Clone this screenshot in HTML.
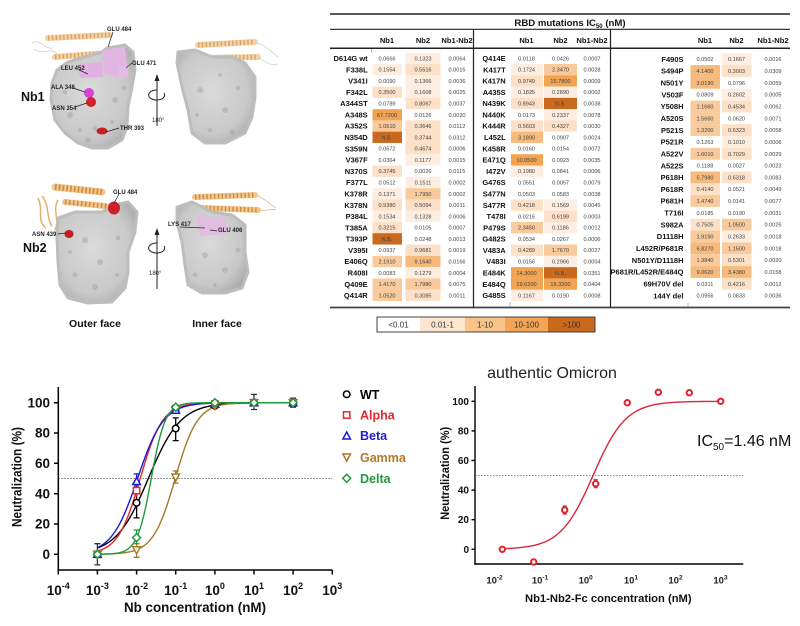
<!DOCTYPE html>
<html><head><meta charset="utf-8">
<style>
html,body{margin:0;padding:0;background:#fff;}
svg{display:block;}
text{font-family:"Liberation Sans",Arial,sans-serif;}
.l{font-size:7.5px;font-weight:bold;text-anchor:end;fill:#111;}
.v{font-size:5.6px;text-anchor:middle;fill:#444;}
.h{font-size:7.6px;font-weight:bold;text-anchor:middle;fill:#111;}
.F{fill:#fdeee1;}.M{fill:#fce0c7;}.A{fill:#f9cb9c;}.B{fill:#f7ba7d;}.C{fill:#f3a453;}.N{fill:#c8691f;}
.pl{font-size:6px;font-weight:bold;fill:#222;}
</style></head><body>
<svg width="800" height="626" viewBox="0 0 800 626" xmlns="http://www.w3.org/2000/svg">
<defs>
<radialGradient id="gs" cx="0.45" cy="0.45" r="0.65">
<stop offset="0" stop-color="#dadada"/><stop offset="0.7" stop-color="#c9c9c9"/><stop offset="1" stop-color="#a9a9a9"/>
</radialGradient>
</defs>
<rect width="800" height="626" fill="#fff"/>

<!-- ================= PROTEIN PANEL ================= -->
<g stroke-linejoin="round">
<!-- top-left -->
<path d="M32,43 C40,38 45,50 53,48 M34,49 C44,56 50,46 58,55" fill="none" stroke="#cfcfcf" stroke-width="0.8"/>
<path d="M48,38 L110,35" stroke="#f3d3a6" stroke-width="6" stroke-linecap="round"/>
<path d="M48,38 L110,35" stroke="#dca265" stroke-width="5" stroke-dasharray="1.4 2.4"/>
<path d="M55,57 L108,53" stroke="#f3d3a6" stroke-width="6" stroke-linecap="round"/>
<path d="M55,57 L108,53" stroke="#dca265" stroke-width="5" stroke-dasharray="1.4 2.4"/>
<path d="M107,48 L125,45 L133,52 L135,70 L132,87 L128,107 L127,127 L122,140 L108,148 L92,148 L78,143 L65,133 L55,120 L51,100 L52,83 L57,70 L68,62 L85,57 L102,52 Z" fill="url(#gs)" stroke="#bdbdbd" stroke-width="3"/>
<g fill="#a5a5a5" opacity="0.5">
<circle cx="70" cy="115" r="3"/><circle cx="95" cy="128" r="2.5"/><circle cx="115" cy="100" r="3"/><circle cx="65" cy="92" r="2.5"/><circle cx="88" cy="140" r="3"/><circle cx="112" cy="122" r="2"/><circle cx="124" cy="88" r="2.5"/><circle cx="80" cy="130" r="2"/>
</g>
<path d="M102,50 L125,47 L127,66 L120,78 L104,74 Z" fill="#e2b6e2"/>
<path d="M78,64 L102,62 L103,77 L80,78 Z" fill="#e2b0e2"/>
<path d="M118,67 L129,66 L128,77 L119,77 Z" fill="#e6bce6"/>
<circle cx="89" cy="93" r="5" fill="#d843d8"/>
<circle cx="91" cy="102" r="5" fill="#d3202a"/>
<ellipse cx="102" cy="131" rx="5.5" ry="3.5" fill="#c81e28"/>
<!-- top-right -->
<path d="M198,45 L255,42" stroke="#f3d3a6" stroke-width="6" stroke-linecap="round"/>
<path d="M198,45 L255,42" stroke="#dca265" stroke-width="5" stroke-dasharray="1.4 2.4"/>
<path d="M205,58 L258,57" stroke="#f3d3a6" stroke-width="6" stroke-linecap="round"/>
<path d="M205,58 L258,57" stroke="#dca265" stroke-width="5" stroke-dasharray="1.4 2.4"/>
<path d="M255,42 C265,45 272,52 278,57 M258,57 C266,62 270,66 278,64" fill="none" stroke="#cfcfcf" stroke-width="0.8"/>
<path d="M178,52 L195,50 L212,57 L232,57 L245,63 L255,77 L255,97 L252,117 L245,133 L225,143 L205,143 L192,133 L188,110 L182,87 L177,63 Z" fill="url(#gs)" stroke="#bdbdbd" stroke-width="3"/>
<g fill="#a5a5a5" opacity="0.5">
<circle cx="200" cy="90" r="3"/><circle cx="225" cy="110" r="3"/><circle cx="210" cy="130" r="2.5"/><circle cx="238" cy="88" r="2.5"/><circle cx="197" cy="115" r="2"/><circle cx="232" cy="132" r="2.5"/><circle cx="220" cy="75" r="2"/>
</g>
<!-- bottom-left -->
<path d="M38,198 C44,210 36,220 46,228 M42,196 C50,206 46,218 52,226 M58,200 C52,210 60,220 55,230" fill="none" stroke="#e3b06a" stroke-width="1.5"/>
<path d="M55,187 L102,192" stroke="#f0c890" stroke-width="7" stroke-linecap="round"/>
<path d="M55,187 L102,192" stroke="#d18a3c" stroke-width="6" stroke-dasharray="1.6 2.2"/>
<path d="M65,202 L125,208" stroke="#f0c890" stroke-width="6" stroke-linecap="round"/>
<path d="M65,202 L125,208" stroke="#d18a3c" stroke-width="5" stroke-dasharray="1.6 2.4"/>
<path d="M58,218 L75,212 L102,212 L115,205 L128,202 L137,212 L135,232 L128,252 L128,272 L125,288 L112,302 L88,303 L68,298 L60,285 L58,262 L57,238 Z" fill="url(#gs)" stroke="#bdbdbd" stroke-width="3"/>
<g fill="#a5a5a5" opacity="0.5">
<circle cx="85" cy="240" r="3"/><circle cx="100" cy="262" r="3"/><circle cx="75" cy="275" r="2.5"/><circle cx="118" cy="238" r="2.5"/><circle cx="95" cy="287" r="3"/><circle cx="117" cy="275" r="2"/><circle cx="70" cy="252" r="2"/>
</g>
<ellipse cx="114" cy="208" rx="6" ry="6.5" fill="#cc1f2a"/>
<ellipse cx="69" cy="234" rx="4.5" ry="4" fill="#c21d28"/>
<!-- bottom-right -->
<path d="M195,197 L255,195" stroke="#f0c890" stroke-width="6" stroke-linecap="round"/>
<path d="M195,197 L255,195" stroke="#d18a3c" stroke-width="5" stroke-dasharray="1.4 2.4"/>
<path d="M202,208 L258,210" stroke="#f0c890" stroke-width="6" stroke-linecap="round"/>
<path d="M202,208 L258,210" stroke="#d18a3c" stroke-width="5" stroke-dasharray="1.4 2.4"/>
<path d="M255,195 C265,198 270,205 276,208 M258,210 C265,212 270,208 276,210" fill="none" stroke="#e8c590" stroke-width="1"/>
<path d="M177,207 L192,202 L212,212 L232,215 L245,225 L245,252 L248,272 L242,288 L225,293 L202,293 L188,285 L185,265 L182,242 L177,222 Z" fill="url(#gs)" stroke="#bdbdbd" stroke-width="3"/>
<g fill="#a5a5a5" opacity="0.5">
<circle cx="205" cy="255" r="3"/><circle cx="225" cy="270" r="3"/><circle cx="238" cy="250" r="2.5"/><circle cx="195" cy="275" r="2.5"/><circle cx="215" cy="285" r="2"/>
</g>
<path d="M196,216 L225,218 L228,234 L200,236 Z" fill="#e2bde2"/>
</g>
<!-- leader lines -->
<g stroke="#222" stroke-width="0.7" fill="none">
<line x1="113" y1="32" x2="108" y2="47"/>
<line x1="79" y1="70" x2="88" y2="74"/>
<line x1="132" y1="63" x2="126" y2="68"/>
<line x1="73" y1="88" x2="85" y2="92"/>
<line x1="75" y1="107" x2="87" y2="103"/>
<line x1="119" y1="128" x2="106" y2="132"/>
<line x1="119" y1="194" x2="114" y2="203"/>
<line x1="58" y1="234" x2="66" y2="233"/>
<line x1="180" y1="227" x2="205" y2="228"/>
<line x1="217" y1="231" x2="210" y2="230"/>
</g>
<g class="pl">
<text x="107" y="31">GLU 484</text>
<text x="61" y="70">LEU 452</text>
<text x="132" y="65">GLU 471</text>
<text x="51" y="89">ALA 348</text>
<text x="52" y="110">ASN 354</text>
<text x="120" y="130">THR 393</text>
<text x="113" y="194">GLU 484</text>
<text x="32" y="236">ASN 439</text>
<text x="168" y="226">LYS 417</text>
<text x="218" y="232">GLU 406</text>
</g>
<!-- rotation arrows -->
<g stroke="#222" stroke-width="1" fill="none">
<line x1="157" y1="126" x2="157" y2="79"/>
<path d="M164,93 A8,5 0 1,1 157,90"/>
<line x1="157" y1="289" x2="157" y2="233"/>
<path d="M164,246 A8,5 0 1,1 157,243"/>
</g>
<path d="M157,74 L154.5,81 L159.5,81 Z M157,228 L154.5,235 L159.5,235 Z" fill="#222"/>
<text x="152" y="122" font-size="6" fill="#222">180<tspan font-size="4" dy="-2.5">o</tspan></text>
<text x="149" y="275" font-size="6" fill="#222">180<tspan font-size="4" dy="-2.5">o</tspan></text>
<text x="21" y="101" font-size="12.5" font-weight="bold" fill="#111">Nb1</text>
<text x="23" y="252" font-size="12.5" font-weight="bold" fill="#111">Nb2</text>
<text x="95" y="327" font-size="10.5" font-weight="bold" fill="#111" text-anchor="middle">Outer face</text>
<text x="217" y="327" font-size="10.5" font-weight="bold" fill="#111" text-anchor="middle">Inner face</text>

<!-- ================= TABLE ================= -->
<text x="570" y="26" font-size="9.6" font-weight="bold" text-anchor="middle" fill="#111">RBD mutations IC<tspan font-size="6" dy="2">50</tspan><tspan dy="-2"> (nM)</tspan></text>
<g class="h">
<text x="387" y="43">Nb1</text><text x="423" y="43">Nb2</text><text x="457" y="43">Nb1-Nb2</text>
<text x="526.5" y="43">Nb1</text><text x="560.5" y="43">Nb2</text><text x="592" y="43">Nb1-Nb2</text>
<text x="705" y="43">Nb1</text><text x="736.5" y="43">Nb2</text><text x="773" y="43">Nb1-Nb2</text>
</g>

<!-- left section -->
<g transform="translate(0,58.3)"><rect class="F" x="405.5" y="-5.65" width="35" height="11.3"/><text class="l" x="367.7" y="2.7">D614G wt</text><text class="v" x="387" y="2">0.0666</text><text class="v" x="423" y="2">0.1323</text><text class="v" x="457" y="2">0.0064</text></g>
<g transform="translate(0,69.6)"><rect class="F" x="372.5" y="-5.65" width="29.5" height="11.3"/><rect class="M" x="405.5" y="-5.65" width="35" height="11.3"/><text class="l" x="367.7" y="2.7">F338L</text><text class="v" x="387" y="2">0.1554</text><text class="v" x="423" y="2">0.5516</text><text class="v" x="457" y="2">0.0015</text></g>
<g transform="translate(0,80.9)"><rect class="F" x="405.5" y="-5.65" width="35" height="11.3"/><text class="l" x="367.7" y="2.7">V341I</text><text class="v" x="387" y="2">0.0090</text><text class="v" x="423" y="2">0.1366</text><text class="v" x="457" y="2">0.0036</text></g>
<g transform="translate(0,92.2)"><rect class="M" x="372.5" y="-5.65" width="29.5" height="11.3"/><rect class="F" x="405.5" y="-5.65" width="35" height="11.3"/><text class="l" x="367.7" y="2.7">F342L</text><text class="v" x="387" y="2">0.3500</text><text class="v" x="423" y="2">0.1608</text><text class="v" x="457" y="2">0.0025</text></g>
<g transform="translate(0,103.5)"><rect class="M" x="405.5" y="-5.65" width="35" height="11.3"/><text class="l" x="367.7" y="2.7">A344ST</text><text class="v" x="387" y="2">0.0789</text><text class="v" x="423" y="2">0.8067</text><text class="v" x="457" y="2">0.0037</text></g>
<g transform="translate(0,114.8)"><rect class="C" x="372.5" y="-5.65" width="29.5" height="11.3"/><text class="l" x="367.7" y="2.7">A348S</text><text class="v" x="387" y="2">67.7200</text><text class="v" x="423" y="2">0.0126</text><text class="v" x="457" y="2">0.0020</text></g>
<g transform="translate(0,126.0)"><rect class="A" x="372.5" y="-5.65" width="29.5" height="11.3"/><rect class="M" x="405.5" y="-5.65" width="35" height="11.3"/><text class="l" x="367.7" y="2.7">A352S</text><text class="v" x="387" y="2">1.0510</text><text class="v" x="423" y="2">0.3646</text><text class="v" x="457" y="2">0.0112</text></g>
<g transform="translate(0,137.3)"><rect class="N" x="372.5" y="-5.65" width="29.5" height="11.3"/><rect class="M" x="405.5" y="-5.65" width="35" height="11.3"/><text class="l" x="367.7" y="2.7">N354D</text><text class="v" x="387" y="2">N.B.</text><text class="v" x="423" y="2">0.3744</text><text class="v" x="457" y="2">0.0312</text></g>
<g transform="translate(0,148.6)"><rect class="M" x="405.5" y="-5.65" width="35" height="11.3"/><text class="l" x="367.7" y="2.7">S359N</text><text class="v" x="387" y="2">0.0672</text><text class="v" x="423" y="2">0.4674</text><text class="v" x="457" y="2">0.0006</text></g>
<g transform="translate(0,159.9)"><rect class="F" x="405.5" y="-5.65" width="35" height="11.3"/><text class="l" x="367.7" y="2.7">V367F</text><text class="v" x="387" y="2">0.0364</text><text class="v" x="423" y="2">0.1177</text><text class="v" x="457" y="2">0.0015</text></g>
<g transform="translate(0,171.2)"><rect class="M" x="372.5" y="-5.65" width="29.5" height="11.3"/><text class="l" x="367.7" y="2.7">N370S</text><text class="v" x="387" y="2">0.3745</text><text class="v" x="423" y="2">0.0026</text><text class="v" x="457" y="2">0.0115</text></g>
<g transform="translate(0,182.5)"><rect class="F" x="405.5" y="-5.65" width="35" height="11.3"/><text class="l" x="367.7" y="2.7">F377L</text><text class="v" x="387" y="2">0.0512</text><text class="v" x="423" y="2">0.1511</text><text class="v" x="457" y="2">0.0002</text></g>
<g transform="translate(0,193.8)"><rect class="F" x="372.5" y="-5.65" width="29.5" height="11.3"/><rect class="A" x="405.5" y="-5.65" width="35" height="11.3"/><text class="l" x="367.7" y="2.7">K378R</text><text class="v" x="387" y="2">0.1371</text><text class="v" x="423" y="2">1.7950</text><text class="v" x="457" y="2">0.0002</text></g>
<g transform="translate(0,205.1)"><rect class="M" x="372.5" y="-5.65" width="29.5" height="11.3"/><rect class="M" x="405.5" y="-5.65" width="35" height="11.3"/><text class="l" x="367.7" y="2.7">K378N</text><text class="v" x="387" y="2">0.9380</text><text class="v" x="423" y="2">0.5094</text><text class="v" x="457" y="2">0.0011</text></g>
<g transform="translate(0,216.4)"><rect class="F" x="372.5" y="-5.65" width="29.5" height="11.3"/><rect class="F" x="405.5" y="-5.65" width="35" height="11.3"/><text class="l" x="367.7" y="2.7">P384L</text><text class="v" x="387" y="2">0.1534</text><text class="v" x="423" y="2">0.1328</text><text class="v" x="457" y="2">0.0006</text></g>
<g transform="translate(0,227.7)"><rect class="M" x="372.5" y="-5.65" width="29.5" height="11.3"/><text class="l" x="367.7" y="2.7">T385A</text><text class="v" x="387" y="2">0.3215</text><text class="v" x="423" y="2">0.0105</text><text class="v" x="457" y="2">0.0007</text></g>
<g transform="translate(0,238.9)"><rect class="N" x="372.5" y="-5.65" width="29.5" height="11.3"/><text class="l" x="367.7" y="2.7">T393P</text><text class="v" x="387" y="2">N.B.</text><text class="v" x="423" y="2">0.0248</text><text class="v" x="457" y="2">0.0013</text></g>
<g transform="translate(0,250.2)"><rect class="M" x="405.5" y="-5.65" width="35" height="11.3"/><text class="l" x="367.7" y="2.7">V395I</text><text class="v" x="387" y="2">0.0937</text><text class="v" x="423" y="2">0.9681</text><text class="v" x="457" y="2">0.0019</text></g>
<g transform="translate(0,261.5)"><rect class="A" x="372.5" y="-5.65" width="29.5" height="11.3"/><rect class="B" x="405.5" y="-5.65" width="35" height="11.3"/><text class="l" x="367.7" y="2.7">E406Q</text><text class="v" x="387" y="2">2.1910</text><text class="v" x="423" y="2">9.1640</text><text class="v" x="457" y="2">0.0166</text></g>
<g transform="translate(0,272.8)"><rect class="F" x="405.5" y="-5.65" width="35" height="11.3"/><text class="l" x="367.7" y="2.7">R408I</text><text class="v" x="387" y="2">0.0083</text><text class="v" x="423" y="2">0.1279</text><text class="v" x="457" y="2">0.0004</text></g>
<g transform="translate(0,284.1)"><rect class="A" x="372.5" y="-5.65" width="29.5" height="11.3"/><rect class="A" x="405.5" y="-5.65" width="35" height="11.3"/><text class="l" x="367.7" y="2.7">Q409E</text><text class="v" x="387" y="2">1.4170</text><text class="v" x="423" y="2">1.7980</text><text class="v" x="457" y="2">0.0075</text></g>
<g transform="translate(0,295.4)"><rect class="A" x="372.5" y="-5.65" width="29.5" height="11.3"/><rect class="M" x="405.5" y="-5.65" width="35" height="11.3"/><text class="l" x="367.7" y="2.7">Q414R</text><text class="v" x="387" y="2">1.0520</text><text class="v" x="423" y="2">0.3085</text><text class="v" x="457" y="2">0.0011</text></g>

<!-- middle section -->
<g transform="translate(0,58.3)"><text class="l" x="505.7" y="2.7">Q414E</text><text class="v" x="526.5" y="2">0.0118</text><text class="v" x="560.5" y="2">0.0426</text><text class="v" x="592" y="2">0.0007</text></g>
<g transform="translate(0,69.6)"><rect class="F" x="511" y="-5.65" width="32" height="11.3"/><rect class="A" x="544" y="-5.65" width="33" height="11.3"/><text class="l" x="505.7" y="2.7">K417T</text><text class="v" x="526.5" y="2">0.1724</text><text class="v" x="560.5" y="2">2.3470</text><text class="v" x="592" y="2">0.0028</text></g>
<g transform="translate(0,80.9)"><rect class="M" x="511" y="-5.65" width="32" height="11.3"/><rect class="C" x="544" y="-5.65" width="33" height="11.3"/><text class="l" x="505.7" y="2.7">K417N</text><text class="v" x="526.5" y="2">0.9749</text><text class="v" x="560.5" y="2">15.7800</text><text class="v" x="592" y="2">0.0009</text></g>
<g transform="translate(0,92.2)"><rect class="F" x="511" y="-5.65" width="32" height="11.3"/><rect class="F" x="544" y="-5.65" width="33" height="11.3"/><text class="l" x="505.7" y="2.7">A435S</text><text class="v" x="526.5" y="2">0.1825</text><text class="v" x="560.5" y="2">0.2890</text><text class="v" x="592" y="2">0.0002</text></g>
<g transform="translate(0,103.5)"><rect class="M" x="511" y="-5.65" width="32" height="11.3"/><rect class="N" x="544" y="-5.65" width="33" height="11.3"/><text class="l" x="505.7" y="2.7">N439K</text><text class="v" x="526.5" y="2">0.8943</text><text class="v" x="560.5" y="2">N.B.</text><text class="v" x="592" y="2">0.0038</text></g>
<g transform="translate(0,114.8)"><rect class="F" x="544" y="-5.65" width="33" height="11.3"/><text class="l" x="505.7" y="2.7">N440K</text><text class="v" x="526.5" y="2">0.0173</text><text class="v" x="560.5" y="2">0.2337</text><text class="v" x="592" y="2">0.0078</text></g>
<g transform="translate(0,126.0)"><rect class="M" x="511" y="-5.65" width="32" height="11.3"/><rect class="M" x="544" y="-5.65" width="33" height="11.3"/><text class="l" x="505.7" y="2.7">K444R</text><text class="v" x="526.5" y="2">0.5603</text><text class="v" x="560.5" y="2">0.4327</text><text class="v" x="592" y="2">0.0030</text></g>
<g transform="translate(0,137.3)"><rect class="B" x="511" y="-5.65" width="32" height="11.3"/><text class="l" x="505.7" y="2.7">L452L</text><text class="v" x="526.5" y="2">3.1890</text><text class="v" x="560.5" y="2">0.0907</text><text class="v" x="592" y="2">0.0024</text></g>
<g transform="translate(0,148.6)"><text class="l" x="505.7" y="2.7">K458R</text><text class="v" x="526.5" y="2">0.0160</text><text class="v" x="560.5" y="2">0.0154</text><text class="v" x="592" y="2">0.0072</text></g>
<g transform="translate(0,159.9)"><rect class="C" x="511" y="-5.65" width="32" height="11.3"/><text class="l" x="505.7" y="2.7">E471Q</text><text class="v" x="526.5" y="2">10.0500</text><text class="v" x="560.5" y="2">0.0923</text><text class="v" x="592" y="2">0.0035</text></g>
<g transform="translate(0,171.2)"><rect class="F" x="511" y="-5.65" width="32" height="11.3"/><text class="l" x="505.7" y="2.7">I472V</text><text class="v" x="526.5" y="2">0.1980</text><text class="v" x="560.5" y="2">0.0841</text><text class="v" x="592" y="2">0.0006</text></g>
<g transform="translate(0,182.5)"><text class="l" x="505.7" y="2.7">G476S</text><text class="v" x="526.5" y="2">0.0551</text><text class="v" x="560.5" y="2">0.0057</text><text class="v" x="592" y="2">0.0079</text></g>
<g transform="translate(0,193.8)"><text class="l" x="505.7" y="2.7">S477N</text><text class="v" x="526.5" y="2">0.0503</text><text class="v" x="560.5" y="2">0.0583</text><text class="v" x="592" y="2">0.0038</text></g>
<g transform="translate(0,205.1)"><rect class="M" x="511" y="-5.65" width="32" height="11.3"/><rect class="F" x="544" y="-5.65" width="33" height="11.3"/><text class="l" x="505.7" y="2.7">S477R</text><text class="v" x="526.5" y="2">0.4218</text><text class="v" x="560.5" y="2">0.1569</text><text class="v" x="592" y="2">0.0045</text></g>
<g transform="translate(0,216.4)"><rect class="M" x="544" y="-5.65" width="33" height="11.3"/><text class="l" x="505.7" y="2.7">T478I</text><text class="v" x="526.5" y="2">0.0215</text><text class="v" x="560.5" y="2">0.6199</text><text class="v" x="592" y="2">0.0003</text></g>
<g transform="translate(0,227.7)"><rect class="A" x="511" y="-5.65" width="32" height="11.3"/><rect class="F" x="544" y="-5.65" width="33" height="11.3"/><text class="l" x="505.7" y="2.7">P479S</text><text class="v" x="526.5" y="2">2.3450</text><text class="v" x="560.5" y="2">0.1186</text><text class="v" x="592" y="2">0.0012</text></g>
<g transform="translate(0,238.9)"><text class="l" x="505.7" y="2.7">G482S</text><text class="v" x="526.5" y="2">0.0534</text><text class="v" x="560.5" y="2">0.0267</text><text class="v" x="592" y="2">0.0006</text></g>
<g transform="translate(0,250.2)"><rect class="M" x="511" y="-5.65" width="32" height="11.3"/><rect class="A" x="544" y="-5.65" width="33" height="11.3"/><text class="l" x="505.7" y="2.7">V483A</text><text class="v" x="526.5" y="2">0.4289</text><text class="v" x="560.5" y="2">1.7670</text><text class="v" x="592" y="2">0.0027</text></g>
<g transform="translate(0,261.5)"><rect class="F" x="544" y="-5.65" width="33" height="11.3"/><text class="l" x="505.7" y="2.7">V483I</text><text class="v" x="526.5" y="2">0.0156</text><text class="v" x="560.5" y="2">0.2966</text><text class="v" x="592" y="2">0.0004</text></g>
<g transform="translate(0,272.8)"><rect class="C" x="511" y="-5.65" width="32" height="11.3"/><rect class="N" x="544" y="-5.65" width="33" height="11.3"/><text class="l" x="505.7" y="2.7">E484K</text><text class="v" x="526.5" y="2">14.3000</text><text class="v" x="560.5" y="2">N.B.</text><text class="v" x="592" y="2">0.0351</text></g>
<g transform="translate(0,284.1)"><rect class="C" x="511" y="-5.65" width="32" height="11.3"/><rect class="C" x="544" y="-5.65" width="33" height="11.3"/><text class="l" x="505.7" y="2.7">E484Q</text><text class="v" x="526.5" y="2">19.6200</text><text class="v" x="560.5" y="2">19.3200</text><text class="v" x="592" y="2">0.0404</text></g>
<g transform="translate(0,295.4)"><rect class="F" x="511" y="-5.65" width="32" height="11.3"/><text class="l" x="505.7" y="2.7">G485S</text><text class="v" x="526.5" y="2">0.1167</text><text class="v" x="560.5" y="2">0.0190</text><text class="v" x="592" y="2">0.0008</text></g>

<!-- right section -->
<g transform="translate(0,59.2)"><rect class="F" x="722" y="-5.91" width="29.5" height="11.82"/><text class="l" x="683.5" y="2.7">F490S</text><text class="v" x="705" y="2">0.0502</text><text class="v" x="736.5" y="2">0.1667</text><text class="v" x="773" y="2">0.0016</text></g>
<g transform="translate(0,71.0)"><rect class="B" x="690.5" y="-5.91" width="29.5" height="11.82"/><rect class="M" x="722" y="-5.91" width="29.5" height="11.82"/><text class="l" x="683.5" y="2.7">S494P</text><text class="v" x="705" y="2">4.1400</text><text class="v" x="736.5" y="2">0.3003</text><text class="v" x="773" y="2">0.0309</text></g>
<g transform="translate(0,82.8)"><rect class="B" x="690.5" y="-5.91" width="29.5" height="11.82"/><text class="l" x="683.5" y="2.7">N501Y</text><text class="v" x="705" y="2">3.0190</text><text class="v" x="736.5" y="2">0.0796</text><text class="v" x="773" y="2">0.0059</text></g>
<g transform="translate(0,94.7)"><rect class="F" x="722" y="-5.91" width="29.5" height="11.82"/><text class="l" x="683.5" y="2.7">V503F</text><text class="v" x="705" y="2">0.0809</text><text class="v" x="736.5" y="2">0.2602</text><text class="v" x="773" y="2">0.0005</text></g>
<g transform="translate(0,106.5)"><rect class="A" x="690.5" y="-5.91" width="29.5" height="11.82"/><rect class="M" x="722" y="-5.91" width="29.5" height="11.82"/><text class="l" x="683.5" y="2.7">Y508H</text><text class="v" x="705" y="2">1.1660</text><text class="v" x="736.5" y="2">0.4534</text><text class="v" x="773" y="2">0.0062</text></g>
<g transform="translate(0,118.3)"><rect class="A" x="690.5" y="-5.91" width="29.5" height="11.82"/><text class="l" x="683.5" y="2.7">A520S</text><text class="v" x="705" y="2">1.5660</text><text class="v" x="736.5" y="2">0.0620</text><text class="v" x="773" y="2">0.0071</text></g>
<g transform="translate(0,130.1)"><rect class="A" x="690.5" y="-5.91" width="29.5" height="11.82"/><rect class="M" x="722" y="-5.91" width="29.5" height="11.82"/><text class="l" x="683.5" y="2.7">P521S</text><text class="v" x="705" y="2">1.3200</text><text class="v" x="736.5" y="2">0.6323</text><text class="v" x="773" y="2">0.0058</text></g>
<g transform="translate(0,141.9)"><rect class="F" x="722" y="-5.91" width="29.5" height="11.82"/><text class="l" x="683.5" y="2.7">P521R</text><text class="v" x="705" y="2">0.1263</text><text class="v" x="736.5" y="2">0.1010</text><text class="v" x="773" y="2">0.0006</text></g>
<g transform="translate(0,153.8)"><rect class="A" x="690.5" y="-5.91" width="29.5" height="11.82"/><rect class="M" x="722" y="-5.91" width="29.5" height="11.82"/><text class="l" x="683.5" y="2.7">A522V</text><text class="v" x="705" y="2">1.6010</text><text class="v" x="736.5" y="2">0.7029</text><text class="v" x="773" y="2">0.0029</text></g>
<g transform="translate(0,165.6)"><text class="l" x="683.5" y="2.7">A522S</text><text class="v" x="705" y="2">0.1188</text><text class="v" x="736.5" y="2">0.0027</text><text class="v" x="773" y="2">0.0023</text></g>
<g transform="translate(0,177.4)"><rect class="B" x="690.5" y="-5.91" width="29.5" height="11.82"/><rect class="M" x="722" y="-5.91" width="29.5" height="11.82"/><text class="l" x="683.5" y="2.7">P618H</text><text class="v" x="705" y="2">5.7980</text><text class="v" x="736.5" y="2">0.6318</text><text class="v" x="773" y="2">0.0083</text></g>
<g transform="translate(0,189.2)"><rect class="M" x="690.5" y="-5.91" width="29.5" height="11.82"/><text class="l" x="683.5" y="2.7">P618R</text><text class="v" x="705" y="2">0.4140</text><text class="v" x="736.5" y="2">0.0521</text><text class="v" x="773" y="2">0.0049</text></g>
<g transform="translate(0,201.0)"><rect class="A" x="690.5" y="-5.91" width="29.5" height="11.82"/><text class="l" x="683.5" y="2.7">P681H</text><text class="v" x="705" y="2">1.4740</text><text class="v" x="736.5" y="2">0.0141</text><text class="v" x="773" y="2">0.0077</text></g>
<g transform="translate(0,212.9)"><text class="l" x="683.5" y="2.7">T716I</text><text class="v" x="705" y="2">0.0185</text><text class="v" x="736.5" y="2">0.0190</text><text class="v" x="773" y="2">0.0031</text></g>
<g transform="translate(0,224.7)"><rect class="M" x="690.5" y="-5.91" width="29.5" height="11.82"/><rect class="A" x="722" y="-5.91" width="29.5" height="11.82"/><text class="l" x="683.5" y="2.7">S982A</text><text class="v" x="705" y="2">0.7505</text><text class="v" x="736.5" y="2">1.0500</text><text class="v" x="773" y="2">0.0026</text></g>
<g transform="translate(0,236.5)"><rect class="A" x="690.5" y="-5.91" width="29.5" height="11.82"/><rect class="F" x="722" y="-5.91" width="29.5" height="11.82"/><text class="l" x="683.5" y="2.7">D1118H</text><text class="v" x="705" y="2">1.9190</text><text class="v" x="736.5" y="2">0.2633</text><text class="v" x="773" y="2">0.0018</text></g>
<g transform="translate(0,248.3)"><rect class="B" x="690.5" y="-5.91" width="29.5" height="11.82"/><rect class="A" x="722" y="-5.91" width="29.5" height="11.82"/><text class="l" x="683.5" y="2.7">L452R/P681R</text><text class="v" x="705" y="2">6.8270</text><text class="v" x="736.5" y="2">1.1500</text><text class="v" x="773" y="2">0.0018</text></g>
<g transform="translate(0,260.1)"><rect class="A" x="690.5" y="-5.91" width="29.5" height="11.82"/><rect class="M" x="722" y="-5.91" width="29.5" height="11.82"/><text class="l" x="683.5" y="2.7">N501Y/D1118H</text><text class="v" x="705" y="2">1.3840</text><text class="v" x="736.5" y="2">0.5301</text><text class="v" x="773" y="2">0.0020</text></g>
<g transform="translate(0,272.0)"><rect class="B" x="690.5" y="-5.91" width="29.5" height="11.82"/><rect class="B" x="722" y="-5.91" width="29.5" height="11.82"/><text class="l" x="683.5" y="2.7">P681R/L452R/E484Q</text><text class="v" x="705" y="2">9.0620</text><text class="v" x="736.5" y="2">3.4380</text><text class="v" x="773" y="2">0.0158</text></g>
<g transform="translate(0,283.8)"><rect class="M" x="722" y="-5.91" width="29.5" height="11.82"/><text class="l" x="683.5" y="2.7">69H70V del</text><text class="v" x="705" y="2">0.0311</text><text class="v" x="736.5" y="2">0.4216</text><text class="v" x="773" y="2">0.0012</text></g>
<g transform="translate(0,295.6)"><text class="l" x="683.5" y="2.7">144Y del</text><text class="v" x="705" y="2">0.0956</text><text class="v" x="736.5" y="2">0.0833</text><text class="v" x="773" y="2">0.0036</text></g>

<!-- table lines -->
<g stroke="#222">
<line x1="330" y1="14" x2="790" y2="14" stroke-width="1.5"/>
<line x1="330" y1="29.3" x2="790" y2="29.3" stroke-width="1.2"/>
<line x1="330" y1="48.3" x2="790" y2="48.3" stroke-width="1.5"/>
<line x1="330" y1="307.5" x2="790" y2="307.5" stroke-width="1.8" stroke="#444"/>
<line x1="473.5" y1="29.3" x2="473.5" y2="307.5" stroke-width="1.2"/>
<line x1="610.5" y1="29.3" x2="610.5" y2="307.5" stroke-width="1.2"/>
<line x1="371.7" y1="49" x2="371.7" y2="52.5" stroke-width="0.6" stroke="#888"/>
<line x1="510" y1="302" x2="510" y2="306.7" stroke-width="0.6" stroke="#888"/>
<line x1="688" y1="303" x2="688" y2="306.7" stroke-width="0.6" stroke="#888"/>
</g>

<!-- colour legend -->
<rect x="420" y="317" width="45" height="15" fill="#fde5cf"/>
<rect x="465" y="317" width="40" height="15" fill="#f9c38a"/>
<rect x="505" y="317" width="43" height="15" fill="#f4a457"/>
<rect x="548" y="317" width="47" height="15" fill="#c9691e"/>
<rect x="377" y="317" width="218" height="15" fill="none" stroke="#333" stroke-width="0.9"/>
<g font-size="8" text-anchor="middle" fill="#333">
<text x="398.5" y="327.5">&lt;0.01</text>
<text x="442.5" y="327.5">0.01-1</text>
<text x="485" y="327.5">1-10</text>
<text x="526.5" y="327.5">10-100</text>
<text x="571.5" y="327.5">&gt;100</text>
</g>

<!-- ================= LEFT CHART ================= -->
<g stroke="#000" stroke-width="1.5" fill="none">
<line x1="58.3" y1="387" x2="58.3" y2="570.7"/>
<line x1="57.6" y1="570" x2="332.3" y2="570"/>
<line x1="54" y1="554.3" x2="58.3" y2="554.3"/>
<line x1="54" y1="524.0" x2="58.3" y2="524.0"/>
<line x1="54" y1="493.7" x2="58.3" y2="493.7"/>
<line x1="54" y1="463.3" x2="58.3" y2="463.3"/>
<line x1="54" y1="433.0" x2="58.3" y2="433.0"/>
<line x1="54" y1="402.7" x2="58.3" y2="402.7"/>
<line x1="58.3" y1="570" x2="58.3" y2="574.5"/>
<line x1="97.4" y1="570" x2="97.4" y2="574.5"/>
<line x1="136.6" y1="570" x2="136.6" y2="574.5"/>
<line x1="175.7" y1="570" x2="175.7" y2="574.5"/>
<line x1="214.9" y1="570" x2="214.9" y2="574.5"/>
<line x1="254.0" y1="570" x2="254.0" y2="574.5"/>
<line x1="293.1" y1="570" x2="293.1" y2="574.5"/>
<line x1="332.3" y1="570" x2="332.3" y2="574.5"/>
</g>
<line x1="58.3" y1="478.5" x2="332.3" y2="478.5" stroke="#444" stroke-width="0.7" stroke-dasharray="1.5 1.5"/>
<g font-size="13.5" font-weight="bold" text-anchor="end" fill="#111">
<text x="50" y="559">0</text>
<text x="50" y="528.7">20</text>
<text x="50" y="498.4">40</text>
<text x="50" y="468">60</text>
<text x="50" y="437.7">80</text>
<text x="50" y="407.4">100</text>
</g>
<g font-size="13.5" font-weight="bold" text-anchor="middle" fill="#111">
<text x="58.3" y="595">10<tspan font-size="9" dy="-6">-4</tspan></text>
<text x="97.4" y="595">10<tspan font-size="9" dy="-6">-3</tspan></text>
<text x="136.6" y="595">10<tspan font-size="9" dy="-6">-2</tspan></text>
<text x="175.7" y="595">10<tspan font-size="9" dy="-6">-1</tspan></text>
<text x="214.9" y="595">10<tspan font-size="9" dy="-6">0</tspan></text>
<text x="254.0" y="595">10<tspan font-size="9" dy="-6">1</tspan></text>
<text x="293.1" y="595">10<tspan font-size="9" dy="-6">2</tspan></text>
<text x="332.3" y="595">10<tspan font-size="9" dy="-6">3</tspan></text>
</g>
<text x="195" y="612" font-size="13.4" font-weight="bold" text-anchor="middle" fill="#111">Nb concentration (nM)</text>
<text transform="translate(21.5,477) rotate(-90)" font-size="13.5" font-weight="bold" text-anchor="middle" fill="#111" textLength="100" lengthAdjust="spacingAndGlyphs">Neutralization (%)</text>

<g id="curvesL"></g>

<!-- error bars -->
<g stroke-width="1.3" fill="none">
<path d="M97.4,543.7 V564.9 M94.4,543.7 H100.4 M94.4,564.9 H100.4" stroke="#333"/>
<path d="M136.6,517.9 V489.1 M133.6,517.9 H139.6 M133.6,489.1 H139.6" stroke="#000"/>
<path d="M175.7,440.6 V417.9 M172.7,440.6 H178.7 M172.7,417.9 H178.7" stroke="#000"/>
<path d="M254,409.5 V394.4 M251,409.5 H257 M251,394.4 H257" stroke="#333"/>
<path d="M293.1,407.2 V398.1 M290.1,407.2 H296.1 M290.1,398.1 H296.1" stroke="#333"/>
<path d="M136.6,496.7 V484.6 M133.6,484.6 H139.6" stroke="#e5262b"/>
<path d="M136.6,487.6 V473.9 M133.6,473.9 H139.6" stroke="#1c1cd0"/>
<path d="M136.6,557.3 V543.7 M133.6,557.3 H139.6 M133.6,543.7 H139.6" stroke="#a8782a"/>
<path d="M175.7,483.1 V470.9 M172.7,483.1 H178.7 M172.7,470.9 H178.7" stroke="#a8782a"/>
<path d="M136.6,543.7 V530 M133.6,530 H139.6" stroke="#1f9a3c"/>
</g>
<!-- markers -->
<g fill="#fff" stroke-width="1.5">
<g stroke="#000">
<circle cx="97.4" cy="554.3" r="3.3"/><circle cx="136.6" cy="502.8" r="3.3"/><circle cx="175.7" cy="428.5" r="3.3"/><circle cx="214.9" cy="405.7" r="3.3"/><circle cx="254" cy="402.7" r="3.3"/><circle cx="293.1" cy="402.7" r="3.3"/>
</g>
<g stroke="#e5262b">
<rect x="94.2" y="551.1" width="6.4" height="6.4"/><rect x="133.4" y="487.4" width="6.4" height="6.4"/><rect x="172.5" y="405.6" width="6.4" height="6.4"/><rect x="211.7" y="401" width="6.4" height="6.4"/><rect x="250.8" y="399.5" width="6.4" height="6.4"/><rect x="289.9" y="399.5" width="6.4" height="6.4"/>
</g>
<g stroke="#1c1cd0">
<path d="M97.4,550.3 L93.6,557.3 L101.2,557.3 Z M136.6,477.5 L132.8,484.5 L140.4,484.5 Z M175.7,406.3 L171.9,413.3 L179.5,413.3 Z M214.9,400.2 L211.1,407.2 L218.7,407.2 Z M254,398.7 L250.2,405.7 L257.8,405.7 Z M293.1,398.7 L289.3,405.7 L296.9,405.7 Z"/>
</g>
<g stroke="#a8782a">
<path d="M97.4,558.3 L93.6,551.3 L101.2,551.3 Z M136.6,553.8 L132.8,546.8 L140.4,546.8 Z M175.7,481 L171.9,474 L179.5,474 Z M214.9,409.7 L211.1,402.7 L218.7,402.7 Z M254,406.7 L250.2,399.7 L257.8,399.7 Z M293.1,406.7 L289.3,399.7 L296.9,399.7 Z"/>
</g>
<g stroke="#1f9a3c">
<path d="M97.4,550.3 L101.4,554.3 L97.4,558.3 L93.4,554.3 Z M136.6,533.6 L140.6,537.6 L136.6,541.6 L132.6,537.6 Z M175.7,403.2 L179.7,407.2 L175.7,411.2 L171.7,407.2 Z M214.9,398.7 L218.9,402.7 L214.9,406.7 L210.9,402.7 Z M254,398.7 L258,402.7 L254,406.7 L250,402.7 Z M293.1,398.7 L297.1,402.7 L293.1,406.7 L289.1,402.7 Z"/>
</g>
</g>
<!-- left legend -->
<g fill="#fff" stroke-width="1.5">
<circle cx="346.7" cy="394.3" r="3.3" stroke="#000"/>
<rect x="343.5" y="411.8" width="6.4" height="6.4" stroke="#e5262b"/>
<path d="M346.7,432 L342.9,439 L350.5,439 Z" stroke="#1c1cd0"/>
<path d="M346.7,461 L342.9,454 L350.5,454 Z" stroke="#a8782a"/>
<path d="M346.7,474.3 L350.7,478.3 L346.7,482.3 L342.7,478.3 Z" stroke="#1f9a3c"/>
</g>
<g font-size="12.5" font-weight="bold">
<text x="360" y="398.8" fill="#000">WT</text>
<text x="360" y="419.5" fill="#e5262b">Alpha</text>
<text x="360" y="440.2" fill="#1c1cd0">Beta</text>
<text x="360" y="461.8" fill="#b07a28">Gamma</text>
<text x="360" y="482.8" fill="#1f9a3c">Delta</text>
</g>

<!-- ================= RIGHT CHART ================= -->
<text x="552" y="378" font-size="16" text-anchor="middle" fill="#222">authentic Omicron</text>
<g stroke="#000" stroke-width="1.4" fill="none">
<line x1="475" y1="386" x2="475" y2="564.7"/>
<line x1="474.3" y1="564" x2="743.3" y2="564"/>
<line x1="471.5" y1="549.3" x2="475" y2="549.3"/>
<line x1="471.5" y1="519.7" x2="475" y2="519.7"/>
<line x1="471.5" y1="490.1" x2="475" y2="490.1"/>
<line x1="471.5" y1="460.5" x2="475" y2="460.5"/>
<line x1="471.5" y1="430.9" x2="475" y2="430.9"/>
<line x1="471.5" y1="401.3" x2="475" y2="401.3"/>
</g>
<line x1="475" y1="475.3" x2="743.3" y2="475.3" stroke="#444" stroke-width="0.7" stroke-dasharray="1.5 1.5"/>
<g font-size="10" font-weight="bold" text-anchor="end" fill="#111">
<text x="469" y="552.8">0</text>
<text x="469" y="523.2">20</text>
<text x="469" y="493.6">40</text>
<text x="469" y="464">60</text>
<text x="469" y="434.4">80</text>
<text x="469" y="404.8">100</text>
</g>
<g font-size="9.5" font-weight="bold" text-anchor="middle" fill="#222">
<text x="494.5" y="583.5">10<tspan font-size="6.5" dy="-4">-2</tspan></text>
<text x="540" y="583.5">10<tspan font-size="6.5" dy="-4">-1</tspan></text>
<text x="585.7" y="583.5">10<tspan font-size="6.5" dy="-4">0</tspan></text>
<text x="631" y="583.5">10<tspan font-size="6.5" dy="-4">1</tspan></text>
<text x="675.5" y="583.5">10<tspan font-size="6.5" dy="-4">2</tspan></text>
<text x="720.5" y="583.5">10<tspan font-size="6.5" dy="-4">3</tspan></text>
</g>
<text x="608.3" y="602" font-size="11.2" font-weight="bold" text-anchor="middle" fill="#111">Nb1-Nb2-Fc concentration (nM)</text>
<text transform="translate(449,473.3) rotate(-90)" font-size="11.5" font-weight="bold" text-anchor="middle" fill="#111" textLength="93" lengthAdjust="spacingAndGlyphs">Neutralization (%)</text>
<text x="697" y="446" font-size="16" fill="#111">IC<tspan font-size="10" dy="4">50</tspan><tspan dy="-4">=1.46 nM</tspan></text>

<g id="curveR"></g>
<g stroke="#e0202e" stroke-width="1.2" fill="none">
<path d="M564.7,506 V514 M562.7,506 H566.7 M562.7,514 H566.7"/>
<path d="M595.7,479.7 V487.7 M593.7,479.7 H597.7 M593.7,487.7 H597.7"/>
</g>
<g fill="#fff" stroke="#e0202e" stroke-width="2">
<circle cx="502.3" cy="549.3" r="2.7"/>
<circle cx="533.7" cy="562" r="2.7"/>
<circle cx="564.7" cy="510" r="2.7"/>
<circle cx="595.7" cy="483.7" r="2.7"/>
<circle cx="627.3" cy="402.7" r="2.7"/>
<circle cx="658.3" cy="392.3" r="2.7"/>
<circle cx="689.3" cy="392.7" r="2.7"/>
<circle cx="720.7" cy="401.3" r="2.7"/>
</g>
</svg>
<script>
(function(){
var ns="http://www.w3.org/2000/svg";
function addPath(g,d,color,w){var p=document.createElementNS(ns,"path");p.setAttribute("d",d);p.setAttribute("fill","none");p.setAttribute("stroke",color);p.setAttribute("stroke-width",w);g.appendChild(p);}
var g=document.getElementById("curvesL");
var S=[["#000",-1.7,1.05],["#e5262b",-1.907,1.52],["#1c1cd0",-1.975,1.31],["#a8782a",-1.013,1.53],["#1f9a3c",-1.625,2.42]];
S.forEach(function(s){var d="";for(var i=0;i<=250;i++){var x=-3+i*0.02;var v=100/(1+Math.pow(10,-s[2]*(x-s[1])));var px=58.3+(x+4)*39.14,py=554.3-v*1.516;d+=(d?"L":"M")+px.toFixed(2)+","+py.toFixed(2);}addPath(g,d,s[0],1.4);});
var g2=document.getElementById("curveR");var d="";for(var px=502.3;px<=720.8;px+=1){var x=(px-585.7)/45.3;var v=100/(1+Math.pow(10,-1.2*(x-0.164)));d+=(d?"L":"M")+px.toFixed(2)+","+(549.3-v*1.48).toFixed(2);}addPath(g2,d,"#d8283a",1.4);
})();
</script>
</body></html>
